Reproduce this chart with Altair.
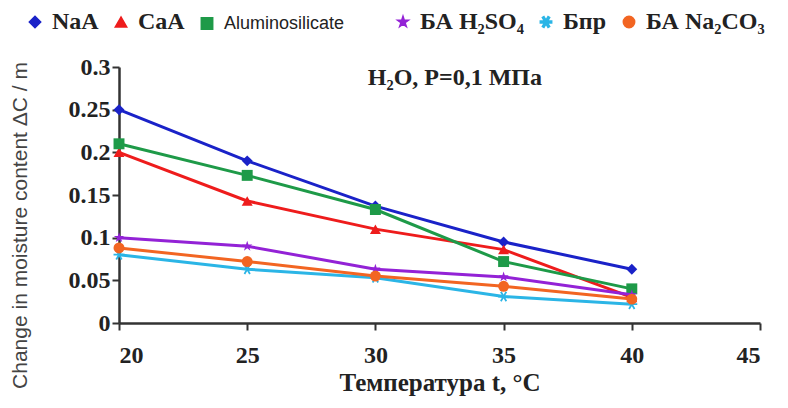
import altair as alt
import pandas as pd
import math

temps = [20, 25, 30, 35, 40]

names_a = ["NaA", "CaA", "Aluminosilicate"]
names_b = ["БА H₂SO₄", "Бпр", "БА Na₂CO₃"]

naa = [0.250, 0.190, 0.137, 0.095, 0.063]
caa = [0.200, 0.143, 0.110, 0.086, 0.030]
alum = [0.210, 0.173, 0.133, 0.072, 0.040]
h2so4 = [0.100, 0.090, 0.063, 0.054, 0.033]
bpr = [0.080, 0.063, 0.053, 0.031, 0.022]
na2co3 = [0.088, 0.072, 0.055, 0.043, 0.028]

colors_a = ["#1a22c8", "#ee1c1c", "#1e9a48"]
colors_b = ["#9322d6", "#2bb5e6", "#f26522"]

# marker shapes (unit-square SVG paths for star / asterisk)
star = "M0,-1L0.224,-0.309L0.951,-0.309L0.363,0.118L0.588,0.809L0,0.382L-0.588,0.809L-0.363,0.118L-0.951,-0.309L-0.224,-0.309Z"
arms = []
for ang in (0, 60, 120):
    a = math.radians(ang)
    c, s = math.cos(a), math.sin(a)
    pts = [(-1, -0.16), (1, -0.16), (1, 0.16), (-1, 0.16)]
    rp = [(x * c - y * s, x * s + y * c) for x, y in pts]
    arms.append("M" + "L".join(f"{x:.3f},{y:.3f}" for x, y in rp) + "Z")
asterisk = "".join(arms)
shapes_a = ["diamond", "triangle-up", "square"]
shapes_b = [star, asterisk, "circle"]

def long_df(names, series):
    rows = []
    for n, vals in zip(names, series):
        for t, v in zip(temps, vals):
            rows.append({"t": t, "v": v, "series": n})
    return pd.DataFrame(rows)

df_a = long_df(names_a, [naa, caa, alum])
df_b = long_df(names_b, [h2so4, bpr, na2co3])

x_enc = alt.X("t:Q", scale=alt.Scale(domain=[20, 45], nice=False),
              axis=alt.Axis(values=[20, 25, 30, 35, 40, 45], title="Температура t, °C"))
y_enc = alt.Y("v:Q", scale=alt.Scale(domain=[0, 0.3], nice=False),
              axis=alt.Axis(values=[0, 0.05, 0.1, 0.15, 0.2, 0.25, 0.3], format=".2~f",
                            title="Change in moisture content ΔC / m"))

label_font_expr = "datum.label == 'Aluminosilicate' ? 'Liberation Sans Narrow, Liberation Sans' : 'Liberation Serif'"
label_size_expr = "datum.label == 'Aluminosilicate' ? 18 : 24"
label_weight_expr = "datum.label == 'Aluminosilicate' ? 'normal' : 'bold'"

def group(df, names, colors, shapes, lx):
    leg = alt.Legend(orient="none", legendX=lx, legendY=-57, direction="horizontal",
                     title=None, columns=3, columnPadding=10,
                     labelFont={"expr": label_font_expr},
                     labelFontSize={"expr": label_size_expr},
                     labelFontWeight={"expr": label_weight_expr},
                     labelColor="#222", symbolSize=130, labelOffset=5,
                     labelLimit=300, symbolStrokeWidth=1.5)
    color = alt.Color("series:N", scale=alt.Scale(domain=names, range=colors), legend=leg)
    shape = alt.Shape("series:N", scale=alt.Scale(domain=names, range=shapes), legend=leg)
    base = alt.Chart(df)
    lines = base.mark_line(strokeWidth=3).encode(x=x_enc, y=y_enc, color=color,
                                                 detail="series:N")
    pts = base.mark_point(filled=True, size=120, opacity=1).encode(
        x=x_enc, y=y_enc, color=color, shape=shape)
    return alt.layer(lines, pts)

ga = group(df_a, names_a, colors_a, shapes_a, -96)
gb = group(df_b, names_b, colors_b, shapes_b, 272)

label_df = pd.DataFrame({"t": [33.1], "v": [0.287], "txt": ["H₂O, P=0,1 МПа"]})
label = alt.Chart(label_df).mark_text(font="Liberation Serif", fontSize=24, fontWeight="bold",
                                      color="#222", align="center", baseline="middle").encode(
    x="t:Q", y="v:Q", text="txt:N")

chart = alt.layer(ga, gb, label).resolve_scale(color="independent", shape="independent").properties(
    width=641, height=256,
    autosize=alt.AutoSizeParams(type="none"),
    padding={"left": 111, "top": 59, "right": 20, "bottom": 77},
).configure_view(stroke=None).configure_axis(
    grid=False, domainColor="#333", domainWidth=2.5, tickColor="#333", tickWidth=2,
    tickSize=7, labelFont="Liberation Serif", labelFontSize=24, labelFontWeight="bold",
    labelColor="#222", titleColor="#222",
).configure_axisX(
    labelPadding=13, titleFont="Liberation Serif", titleFontSize=25, titleFontWeight="bold",
    titlePadding=3,
).configure_axisY(
    labelPadding=2, titleFont="Liberation Sans", titleFontSize=21, titleFontWeight="normal",
    titleColor="#444", titleX=-99, titleY=158, titleAlign="center", titleBaseline="middle",
    titleAngle=270,
)

chart.save("out.html", embed_options={"renderer": "svg", "actions": False})
